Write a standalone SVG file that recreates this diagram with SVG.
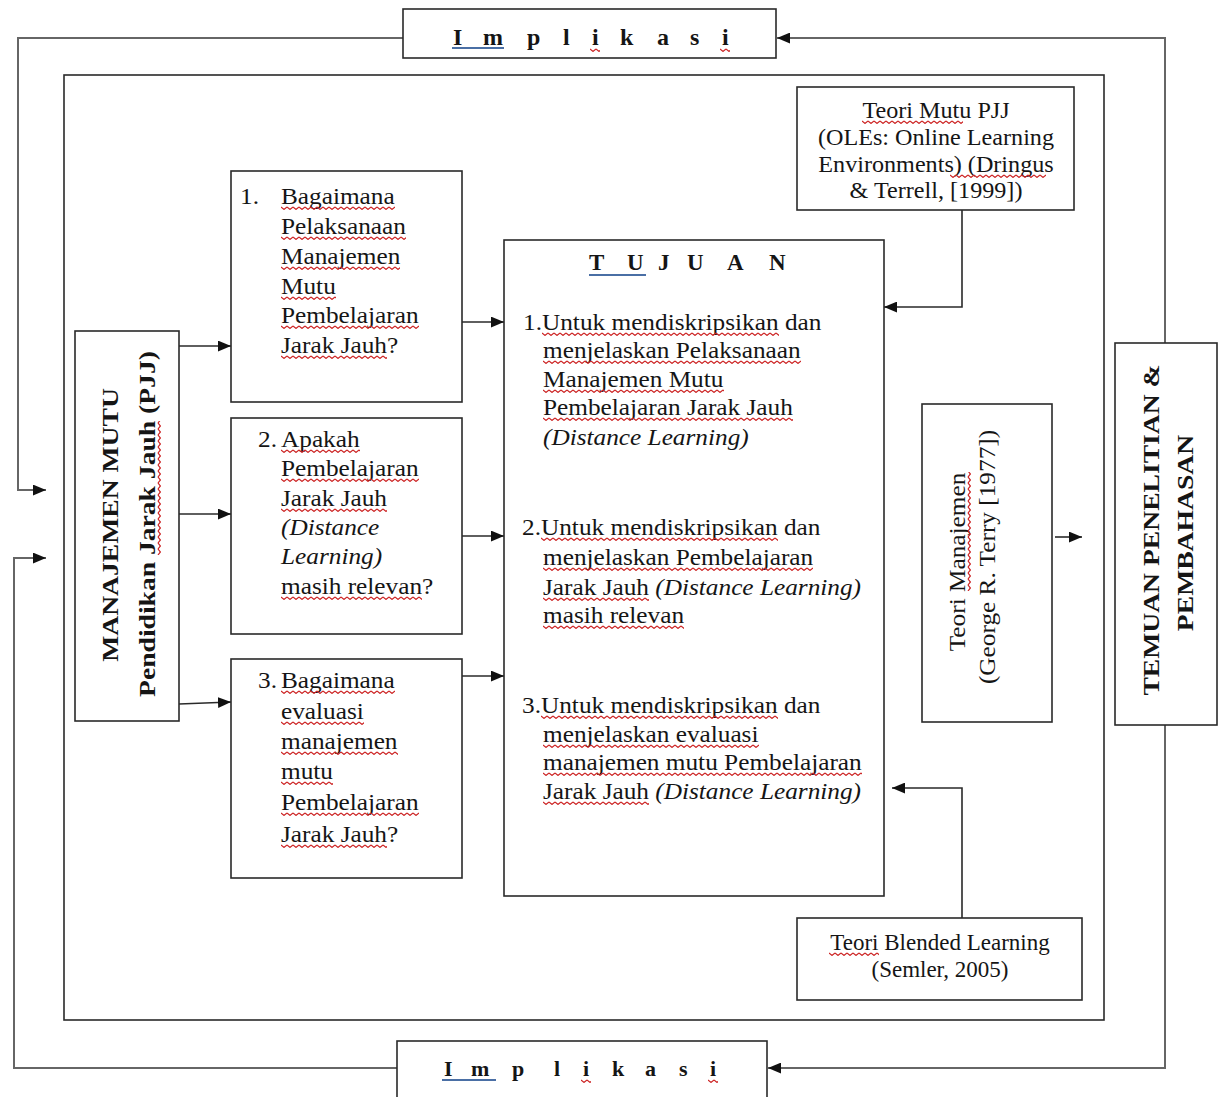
<svg xmlns="http://www.w3.org/2000/svg" width="1219" height="1097" viewBox="0 0 1219 1097">
<style>
.bx{fill:#fff;stroke:#2a2a2a;stroke-width:1.6}
.ln{fill:none;stroke:#2a2a2a;stroke-width:1.6}
.gl{fill:none;stroke:#666;stroke-width:2}
.t{font-family:"Liberation Serif","Times New Roman",serif;font-size:23px;fill:#151515}
.i{font-style:italic}
.b{font-family:"Liberation Serif","Times New Roman",serif;font-weight:bold;fill:#151515}
.sq{fill:url(#sq)}
.ul{stroke:#4a6fa5;stroke-width:2}
</style>
<defs>
<marker id="ah" viewBox="0 0 12 10" refX="12" refY="5" markerWidth="13" markerHeight="11" markerUnits="userSpaceOnUse" orient="auto">
<path d="M0,0 L12,5 L0,10z" fill="#111"/>
</marker>
<pattern id="sq" width="6" height="4" patternUnits="userSpaceOnUse">
<path d="M0,1 L3,3.4 L6,1" fill="none" stroke="#c22" stroke-width="1.2"/>
</pattern>
</defs>

<!-- outer frame -->
<rect id="frame" class="bx" x="64" y="75" width="1040" height="945" fill="none"/>

<g id="connectors">
<path class="gl" d="M1165,343 V38 H777" marker-end="url(#ah)"/>
<path class="gl" d="M403,38 H18 V490 H46" marker-end="url(#ah)"/>
<path class="gl" d="M1165,725 V1068 H768" marker-end="url(#ah)"/>
<path class="gl" d="M397,1068 H14 V558 H46" marker-end="url(#ah)"/>
<path class="ln" d="M179,346 H231" marker-end="url(#ah)"/>
<path class="ln" d="M179,514 H231" marker-end="url(#ah)"/>
<path class="ln" d="M179,704 L231,702" marker-end="url(#ah)"/>
<path class="ln" d="M462,322 H504" marker-end="url(#ah)"/>
<path class="ln" d="M462,536 H504" marker-end="url(#ah)"/>
<path class="ln" d="M462,676 H504" marker-end="url(#ah)"/>
<path class="ln" d="M962,210 V307 H884" marker-end="url(#ah)"/>
<path class="ln" d="M962,918 V788 H892" marker-end="url(#ah)"/>
<path class="ln" d="M1055,537 H1082" marker-end="url(#ah)"/>
<polygon points="446,438 460,431 460,445" fill="#111"/>
</g>

<g id="implikasi-top">
<rect class="bx" x="403" y="9" width="373" height="49"/>
<text class="b" font-size="24" y="45" x="453 483 527 563 592 620 657 690 722">Implikasi</text>
<line class="ul" x1="452" y1="48" x2="504" y2="48"/>
<rect class="sq" transform="translate(590,48)" width="10" height="4"/>
<rect class="sq" transform="translate(720,48)" width="10" height="4"/>
</g>

<g id="implikasi-bottom">
<rect class="bx" x="397" y="1041" width="370" height="70"/>
<text class="b" font-size="22" y="1076" x="444 471 512 554 583 612 645 679 710">Implikasi</text>
<line class="ul" x1="442" y1="1080" x2="496" y2="1080"/>
<rect class="sq" transform="translate(581,1079)" width="10" height="4"/>
<rect class="sq" transform="translate(708,1079)" width="10" height="4"/>
</g>

<g id="manajemen-mutu">
<rect class="bx" x="75" y="331" width="104" height="390"/>
<text class="b" font-size="24" text-anchor="middle" transform="translate(118,525) rotate(-90) scale(1.15,1)">MANAJEMEN MUTU</text>
<text class="b" font-size="24" text-anchor="middle" transform="translate(155,524) rotate(-90) scale(1.15,1)">Pendidikan Jarak Jauh (PJJ)</text>
<rect class="sq" transform="translate(155,524) rotate(-90) translate(-31,2)" width="134" height="4"/>
</g>

<g id="q1">
<rect class="bx" x="231" y="171" width="231" height="231"/>
<text class="t" transform="translate(240,204) scale(1.1,1)">1.</text>
<text class="t" transform="translate(281,204) scale(1.1,1)">Bagaimana</text>
<text class="t" transform="translate(281,234) scale(1.1,1)">Pelaksanaan</text>
<text class="t" transform="translate(281,264) scale(1.1,1)">Manajemen</text>
<text class="t" transform="translate(281,294) scale(1.1,1)">Mutu</text>
<text class="t" transform="translate(281,323) scale(1.1,1)">Pembelajaran</text>
<text class="t" transform="translate(281,353) scale(1.1,1)">Jarak Jauh?</text>
<rect class="sq" transform="translate(281,206)" width="114" height="4"/>
<rect class="sq" transform="translate(281,236)" width="125" height="4"/>
<rect class="sq" transform="translate(281,266)" width="119" height="4"/>
<rect class="sq" transform="translate(281,296)" width="55" height="4"/>
<rect class="sq" transform="translate(281,325)" width="138" height="4"/>
<rect class="sq" transform="translate(281,355)" width="106" height="4"/>
</g>

<g id="q2">
<rect class="bx" x="231" y="418" width="231" height="216"/>
<text class="t" transform="translate(258,447) scale(1.1,1)">2.</text>
<text class="t" transform="translate(281,447) scale(1.1,1)">Apakah</text>
<text class="t" transform="translate(281,476) scale(1.1,1)">Pembelajaran</text>
<text class="t" transform="translate(281,506) scale(1.1,1)">Jarak Jauh</text>
<text class="t i" transform="translate(281,535) scale(1.1,1)">(Distance</text>
<text class="t i" transform="translate(281,564) scale(1.1,1)">Learning)</text>
<text class="t" transform="translate(281,594) scale(1.1,1)">masih relevan?</text>
<rect class="sq" transform="translate(281,449)" width="79" height="4"/>
<rect class="sq" transform="translate(281,478)" width="138" height="4"/>
<rect class="sq" transform="translate(281,508)" width="106" height="4"/>
<rect class="sq" transform="translate(281,596)" width="141" height="4"/>
</g>

<g id="q3">
<rect class="bx" x="231" y="659" width="231" height="219"/>
<text class="t" transform="translate(258,688) scale(1.1,1)">3.</text>
<text class="t" transform="translate(281,688) scale(1.1,1)">Bagaimana</text>
<text class="t" transform="translate(281,719) scale(1.1,1)">evaluasi</text>
<text class="t" transform="translate(281,749) scale(1.1,1)">manajemen</text>
<text class="t" transform="translate(281,779) scale(1.1,1)">mutu</text>
<text class="t" transform="translate(281,810) scale(1.1,1)">Pembelajaran</text>
<text class="t" transform="translate(281,842) scale(1.1,1)">Jarak Jauh?</text>
<rect class="sq" transform="translate(281,690)" width="114" height="4"/>
<rect class="sq" transform="translate(281,721)" width="83" height="4"/>
<rect class="sq" transform="translate(281,751)" width="117" height="4"/>
<rect class="sq" transform="translate(281,781)" width="52" height="4"/>
<rect class="sq" transform="translate(281,812)" width="138" height="4"/>
<rect class="sq" transform="translate(281,844)" width="106" height="4"/>
</g>

<g id="tujuan">
<rect class="bx" x="504" y="240" width="380" height="656"/>
<text class="b" font-size="23" y="270" x="589 627 658 687 727 769">TUJUAN</text>
<line class="ul" x1="589" y1="275" x2="646" y2="275"/>
<text class="t" transform="translate(523,330) scale(1.1,1)">1.Untuk mendiskripsikan dan</text>
<text class="t" transform="translate(543,358) scale(1.1,1)">menjelaskan Pelaksanaan</text>
<text class="t" transform="translate(543,387) scale(1.1,1)">Manajemen Mutu</text>
<text class="t" transform="translate(543,415) scale(1.1,1)">Pembelajaran Jarak Jauh</text>
<text class="t i" transform="translate(543,445) scale(1.1,1)">(Distance Learning)</text>
<rect class="sq" transform="translate(542,332)" width="237" height="4"/>
<rect class="sq" transform="translate(543,360)" width="258" height="4"/>
<rect class="sq" transform="translate(543,389)" width="181" height="4"/>
<rect class="sq" transform="translate(543,417)" width="250" height="4"/>

<text class="t" transform="translate(522,535) scale(1.1,1)">2.Untuk mendiskripsikan dan</text>
<text class="t" transform="translate(543,565) scale(1.1,1)">menjelaskan Pembelajaran</text>
<text class="t" transform="translate(543,595) scale(1.1,1)">Jarak Jauh <tspan class="i">(Distance Learning)</tspan></text>
<text class="t" transform="translate(543,623) scale(1.1,1)">masih relevan</text>
<rect class="sq" transform="translate(541,537)" width="237" height="4"/>
<rect class="sq" transform="translate(543,567)" width="270" height="4"/>
<rect class="sq" transform="translate(543,597)" width="106" height="4"/>
<rect class="sq" transform="translate(543,625)" width="141" height="4"/>

<text class="t" transform="translate(522,713) scale(1.1,1)">3.Untuk mendiskripsikan dan</text>
<text class="t" transform="translate(543,742) scale(1.1,1)">menjelaskan evaluasi</text>
<text class="t" transform="translate(543,770) scale(1.1,1)">manajemen mutu Pembelajaran</text>
<text class="t" transform="translate(543,799) scale(1.1,1)">Jarak Jauh <tspan class="i">(Distance Learning)</tspan></text>
<rect class="sq" transform="translate(541,715)" width="237" height="4"/>
<rect class="sq" transform="translate(543,744)" width="216" height="4"/>
<rect class="sq" transform="translate(543,772)" width="319" height="4"/>
<rect class="sq" transform="translate(543,801)" width="106" height="4"/>
</g>

<g id="teori-mutu">
<rect class="bx" x="797" y="87" width="277" height="123"/>
<text class="t" text-anchor="middle" transform="translate(936,118) scale(1.05,1)">Teori Mutu PJJ</text>
<text class="t" text-anchor="middle" transform="translate(936,145) scale(1.05,1)">(OLEs: Online Learning</text>
<text class="t" text-anchor="middle" transform="translate(936,172) scale(1.05,1)">Environments) (Dringus</text>
<text class="t" text-anchor="middle" transform="translate(936,198) scale(1.05,1)">&amp; Terrell, [1999])</text>
<rect class="sq" transform="translate(862,120)" width="101" height="4"/>
<rect class="sq" transform="translate(950,174)" width="96" height="4"/>
</g>

<g id="teori-manajemen">
<rect class="bx" x="922" y="404" width="130" height="318"/>
<text class="t" text-anchor="middle" transform="translate(965,562) rotate(-90) scale(1.1,1)">Teori Manajemen</text>
<text class="t" text-anchor="middle" transform="translate(995,557) rotate(-90) scale(1.1,1)">(George R. Terry [1977])</text>
<rect class="sq" transform="translate(965,562) rotate(-90) translate(-29,2)" width="119" height="4"/>
</g>

<g id="temuan">
<rect class="bx" x="1115" y="343" width="102" height="382"/>
<text class="b" font-size="24" text-anchor="middle" transform="translate(1159,530) rotate(-90) scale(1.15,1)">TEMUAN PENELITIAN &amp;</text>
<text class="b" font-size="24" text-anchor="middle" transform="translate(1193,533) rotate(-90) scale(1.15,1)">PEMBAHASAN</text>
</g>

<g id="teori-blended">
<rect class="bx" x="797" y="918" width="285" height="82"/>
<text class="t" font-size="23" text-anchor="middle" x="940" y="950">Teori Blended Learning</text>
<text class="t" font-size="23" text-anchor="middle" x="940" y="977">(Semler, 2005)</text>
<rect class="sq" transform="translate(829,952)" width="50" height="4"/>
</g>
</svg>
